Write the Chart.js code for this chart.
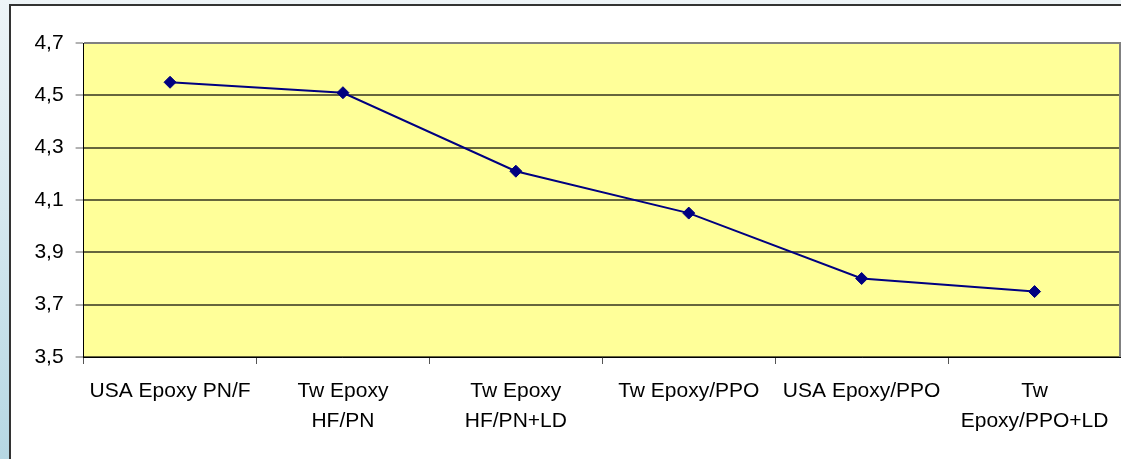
<!DOCTYPE html>
<html>
<head>
<meta charset="utf-8">
<script src="https://cdn.jsdelivr.net/npm/chart.js@4/dist/chart.umd.min.js"></script>
<style>
  html, body { margin: 0; padding: 0; }
  body {
    width: 1121px; height: 459px; overflow: hidden; position: relative;
    background: linear-gradient(to bottom, #eef4f7 0%, #d6e8ef 45%, #b6d7e3 100%);
  }
  #frame {
    position: absolute; left: 9px; top: 4px; right: -10px; bottom: -10px;
    background: #ffffff; border-left: 2px solid #333; border-top: 2px solid #333;
  }
  #wrap { position: absolute; left: 0; top: 0; width: 1128px; height: 459px; }
</style>
</head>
<body>
<div id="frame"></div>
<div id="wrap"><canvas id="c" width="1128" height="459"></canvas></div>
<script>
const categories = [
  'USA Epoxy PN/F',
  ['Tw Epoxy', 'HF/PN'],
  ['Tw Epoxy', 'HF/PN+LD'],
  'Tw Epoxy/PPO',
  'USA Epoxy/PPO',
  ['Tw', 'Epoxy/PPO+LD']
];
const seriesValues = [4.55, 4.51, 4.21, 4.05, 3.80, 3.75];
const yTickLabels = ['3,5', '3,7', '3,9', '4,1', '4,3', '4,5', '4,7'];
const yMin = 3.5, yMax = 4.7, yStep = 0.2;

const plotBg = {
  id: 'plotBg',
  beforeDraw(chart) {
    const a = chart.chartArea, ctx = chart.ctx;
    ctx.save();
    ctx.fillStyle = '#ffff99';
    ctx.fillRect(a.left, a.top, a.right - a.left, a.bottom - a.top);
    ctx.restore();
  },
  beforeDatasetsDraw(chart) {
    const a = chart.chartArea, ctx = chart.ctx;
    ctx.save();
    ctx.strokeStyle = '#808080';
    ctx.lineWidth = 2;
    ctx.beginPath();
    ctx.moveTo(a.right - 1, a.top);
    ctx.lineTo(a.right - 1, a.bottom);
    ctx.stroke();
    ctx.restore();
  }
};

new Chart(document.getElementById('c'), {
  type: 'line',
  data: {
    labels: categories,
    datasets: [{
      data: seriesValues,
      borderColor: '#000080',
      backgroundColor: '#000080',
      borderWidth: 2,
      tension: 0,
      pointStyle: 'rectRot',
      pointRadius: 6,
      pointHoverRadius: 6,
      pointBorderWidth: 1,
      pointBackgroundColor: '#000080',
      pointBorderColor: '#000080'
    }]
  },
  options: {
    responsive: false,
    animation: false,
    events: [],
    layout: { padding: { left: 0, right: 0.6, top: 43, bottom: 0 } },
    plugins: { legend: { display: false }, tooltip: { enabled: false }, title: { display: false } },
    scales: {
      x: {
        type: 'category',
        offset: true,
        afterFit(scale) { scale.height = 102; scale.paddingLeft = 0; scale.paddingRight = 0; },
        grid: {
          offset: true,
          drawOnChartArea: false,
          drawTicks: true,
          tickLength: 7,
          tickColor: '#555',
          tickWidth: 1
        },
        border: { display: true, color: '#000', width: 1 },
        ticks: {
          autoSkip: false,
          maxRotation: 0,
          minRotation: 0,
          padding: 12,
          color: '#000',
          font: { family: '"Liberation Sans", Arial, sans-serif', size: 21, lineHeight: 1.43 }
        }
      },
      y: {
        min: yMin,
        max: yMax,
        afterFit(scale) { scale.width = 83.6; },
        grid: {
          color: (ctx) => (ctx.tick && Math.abs(ctx.tick.value - yMax) < 1e-6) ? '#808080' : 'rgba(0,0,0,0.6)',
          lineWidth: 2,
          drawTicks: true,
          tickLength: 8,
          tickColor: '#666',
          tickWidth: 1
        },
        border: { display: true, color: '#000', width: 1 },
        ticks: {
          stepSize: yStep,
          padding: 12,
          color: '#000',
          font: { family: '"Liberation Sans", Arial, sans-serif', size: 21 },
          callback: (v, i) => yTickLabels[i]
        }
      }
    }
  },
  plugins: [plotBg]
});
</script>
</body>
</html>
